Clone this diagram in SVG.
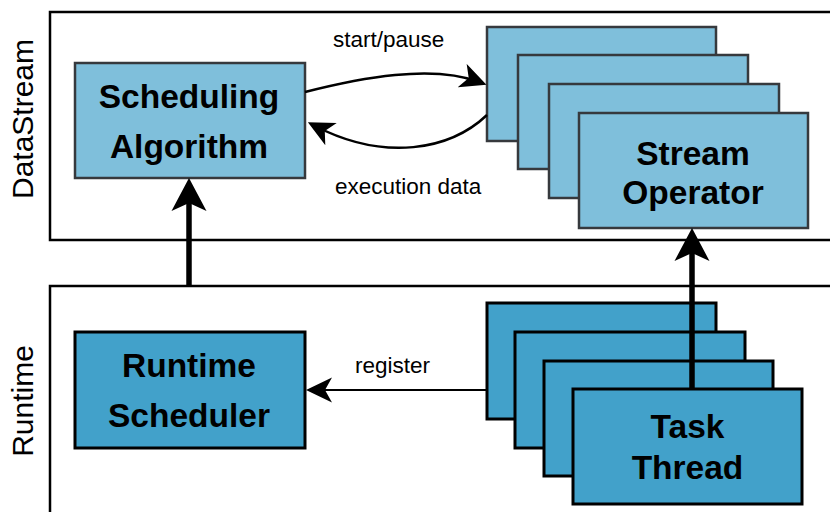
<svg xmlns="http://www.w3.org/2000/svg" width="830" height="512" viewBox="0 0 830 512">
  <style>
    .layer { fill: #ffffff; stroke: #000000; stroke-width: 2.5; }
    .layer-label { font-family: "Liberation Sans", Arial, sans-serif; font-size: 30px; fill: #000000; text-anchor: middle; }
    .ds { fill: #7fbfdb; stroke: #36393d; stroke-width: 2.5; }
    .rt { fill: #42a1ca; stroke: #000000; stroke-width: 3; }
    .title { font-family: "Liberation Sans", Arial, sans-serif; font-weight: bold; font-size: 33.5px; fill: #000000; text-anchor: middle; }
    .edge-label { font-family: "Liberation Sans", Arial, sans-serif; font-size: 22.5px; fill: #000000; }
    .thin { fill: none; stroke: #000000; stroke-width: 2.5; marker-end: url(#arrowThin); }
    .thick { fill: none; stroke: #000000; stroke-width: 5.5; marker-end: url(#arrowThick); }
  </style>
  <defs>
    <marker id="arrowThin" markerUnits="userSpaceOnUse" viewBox="0 -13 26 26" markerWidth="26" markerHeight="26" refX="18" refY="0" orient="auto">
      <path d="M26,0 L0,-12.5 L7,0 L0,12.5 Z" fill="#000000"/>
    </marker>
    <marker id="arrowThick" markerUnits="userSpaceOnUse" viewBox="0 -18 34 36" markerWidth="34" markerHeight="36" refX="20" refY="0" orient="auto">
      <path d="M33,0 L0,-17.5 L8,0 L0,17.5 Z" fill="#000000"/>
    </marker>
  </defs>

  <!-- layer frames (open on the right) -->
  <g id="layer-datastream">
    <rect class="layer" x="50" y="12" width="800" height="228"/>
    <text class="layer-label" transform="translate(33,119) rotate(-90)">DataStream</text>
  </g>
  <g id="layer-runtime">
    <rect class="layer" x="50" y="286" width="800" height="260"/>
    <text class="layer-label" transform="translate(33,401) rotate(-90)">Runtime</text>
  </g>

  <g id="node-scheduling-algorithm">
    <rect class="ds" x="75" y="63" width="230" height="115"/>
    <text class="title" x="189" y="108">Scheduling</text>
    <text class="title" x="189" y="158">Algorithm</text>
  </g>

  <g id="node-stream-operator">
    <rect class="ds" x="487" y="27" width="229" height="114"/>
    <rect class="ds" x="518" y="55" width="230" height="114"/>
    <rect class="ds" x="549" y="84" width="230" height="114"/>
    <rect class="ds" x="579" y="113" width="229" height="115"/>
    <text class="title" x="693" y="165">Stream</text>
    <text class="title" x="693" y="204">Operator</text>
  </g>

  <g id="node-runtime-scheduler">
    <rect class="rt" x="75" y="332" width="230" height="116"/>
    <text class="title" x="189" y="377">Runtime</text>
    <text class="title" x="189" y="427">Scheduler</text>
  </g>

  <g id="node-task-thread">
    <rect class="rt" x="487" y="303" width="229" height="116"/>
    <rect class="rt" x="515" y="332" width="230" height="116"/>
    <rect class="rt" x="544" y="361" width="229" height="115"/>
    <rect class="rt" x="573" y="389" width="229" height="115"/>
    <text class="title" x="687.5" y="438">Task</text>
    <text class="title" x="687.5" y="479">Thread</text>
  </g>

  <g id="connectors">
    <path class="thin" d="M305,92 C360,78 432,64 479,82"/>
    <path class="thin" d="M487,115 C450,150 385,162 315,126"/>
    <path class="thin" d="M487,390 L314,390" style="stroke-width:2"/>
    <path class="thick" d="M189,286 L189,191"/>
    <path class="thick" d="M692,389 L692,241"/>
    <text class="edge-label" x="333" y="47">start/pause</text>
    <text class="edge-label" x="335" y="194">execution data</text>
    <text class="edge-label" x="355" y="373">register</text>
  </g>
</svg>
